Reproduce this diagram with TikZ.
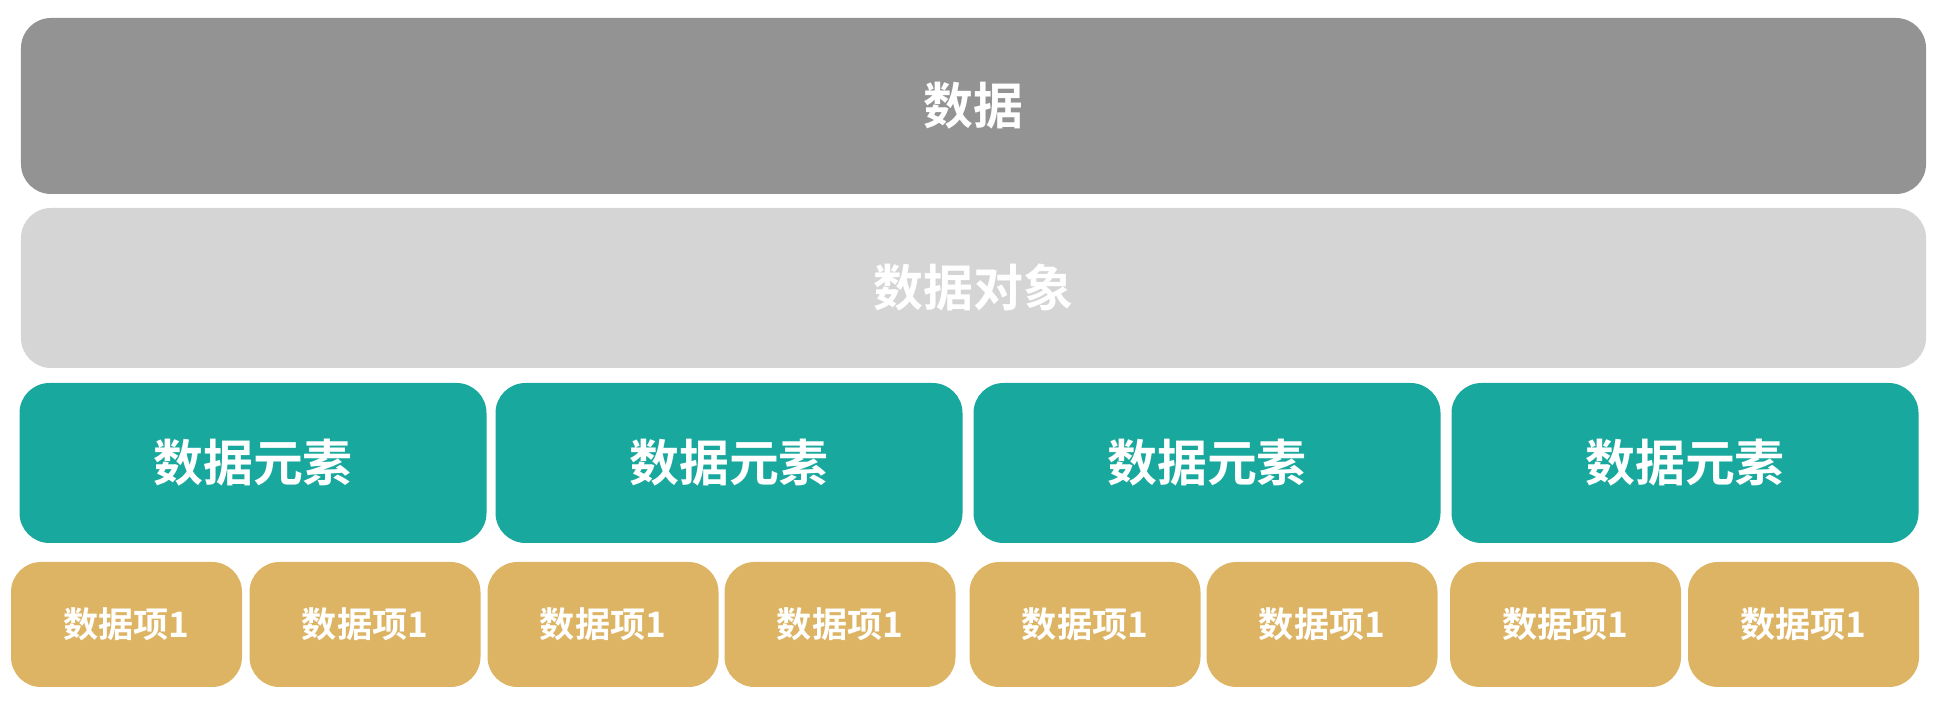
\documentclass[tikz,border=0pt]{standalone}
\usepackage{fontspec}
\newfontfamily\cjk{Noto Sans CJK SC}[BoldFont={Noto Sans CJK SC Bold}]
\usetikzlibrary{positioning}
\definecolor{DarkGray}{HTML}{939393}
\definecolor{LightGray}{HTML}{D5D5D5}
\definecolor{DarkTeal}{HTML}{19A89D}
\definecolor{LightGold}{HTML}{DDB464}
\tikzset{
  block/.style={rectangle, rounded corners=0.3cm, draw=none, inner sep=0pt,
    text=white, font=\cjk\bfseries\fontsize{14.2}{17}\selectfont},
  datarow/.style={block, fill=DarkGray, minimum width=19.05cm, minimum height=1.76cm},
  objrow/.style={block, fill=LightGray, minimum width=19.05cm, minimum height=1.6cm},
  elembox/.style={block, fill=DarkTeal, minimum width=4.67cm, minimum height=1.6cm},
  itembox/.style={block, fill=LightGold, minimum width=2.31cm, minimum height=1.25cm,
    font=\cjk\bfseries\fontsize{10}{12}\selectfont}
}

\begin{document}
\begin{tikzpicture}
  \useasboundingbox (0,0) rectangle (19.38,7.02);

  \node[datarow] (data) at (9.735,5.96) {数据};
  \node[objrow] (obj) at (9.735,4.14) {数据对象};

  \node[elembox] (elemA) at (2.53,2.39) {数据元素};
  \node[elembox] (elemB) at (7.29,2.39) {数据元素};
  \node[elembox] (elemC) at (12.07,2.39) {数据元素};
  \node[elembox] (elemD) at (16.85,2.39) {数据元素};

  \node[itembox] (itemA) at (1.265,0.775) {数据项1};
  \node[itembox] (itemB) at (3.65,0.775) {数据项1};
  \node[itembox] (itemC) at (6.03,0.775) {数据项1};
  \node[itembox] (itemD) at (8.40,0.775) {数据项1};
  \node[itembox] (itemE) at (10.85,0.775) {数据项1};
  \node[itembox] (itemF) at (13.22,0.775) {数据项1};
  \node[itembox] (itemG) at (15.655,0.775) {数据项1};
  \node[itembox] (itemH) at (18.035,0.775) {数据项1};

\end{tikzpicture}
\end{document}
